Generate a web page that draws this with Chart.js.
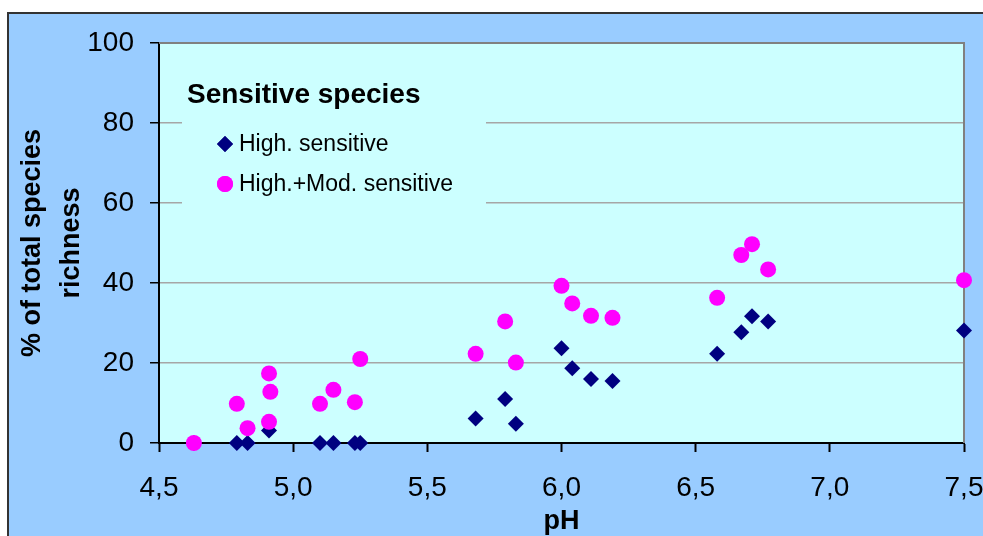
<!DOCTYPE html>
<html>
<head>
<meta charset="utf-8">
<title>Sensitive species</title>
<script src="https://cdn.jsdelivr.net/npm/chart.js@4.4.1/dist/chart.umd.min.js"></script>
<style>
  html, body { margin: 0; padding: 0; background: #ffffff; }
  #wrap { width: 983px; height: 536px; }
</style>
</head>
<body>
<div id="wrap"><canvas id="chart" width="983" height="536"></canvas></div>
<script>
// pH of each site and share of sensitive species (% of total richness)
const phHigh = [4.63, 4.79, 4.83, 4.91, 5.10, 5.15, 5.23, 5.25, 5.68, 5.79, 5.83,
                6.00, 6.04, 6.11, 6.19, 6.58, 6.67, 6.71, 6.77, 7.50];
const highSensitive = [0, 0, 0, 3.1, 0, 0, 0, 0, 6.1, 11.0, 4.8,
                       23.7, 18.7, 16.0, 15.5, 22.3, 27.7, 31.7, 30.4, 28.1];

const phHighMod = [4.63, 4.79, 4.83, 4.91, 4.915, 4.91, 5.10, 5.15, 5.23, 5.25, 5.68,
                   5.79, 5.83, 6.00, 6.04, 6.11, 6.19, 6.58, 6.67, 6.71, 6.77, 7.50];
const highModSensitive = [0, 9.8, 3.7, 17.4, 12.8, 5.3, 9.8, 13.3, 10.2, 21.0, 22.3,
                          30.4, 20.1, 39.3, 34.9, 31.8, 31.3, 36.3, 47.0, 49.7, 43.4, 40.7];

const seriesNames = ['High. sensitive', 'High.+Mod. sensitive'];
const legendTitle = 'Sensitive species';
const xTitle = 'pH';
const yTitle = ['% of total species', 'richness'];

const FONT = "'Liberation Sans', Arial, sans-serif";
const PLOT_BG = '#CCFFFF';
const FRAME_BG = '#99CCFF';

function toPoints(xs, ys) {
    return xs.map((x, i) => ({ x: x, y: ys[i] }));
}

// Background frame, plot area fill and the legend block
const framePlugin = {
    id: 'frame',
    beforeDraw(chart) {
        const { ctx, chartArea: a } = chart;
        ctx.save();
        ctx.fillStyle = '#ffffff';
        ctx.fillRect(0, 0, chart.width, chart.height);
        ctx.fillStyle = FRAME_BG;
        ctx.fillRect(8, 13, chart.width - 8, chart.height - 13);
        ctx.strokeStyle = '#333333';
        ctx.lineWidth = 2;
        ctx.beginPath();
        ctx.moveTo(8, chart.height);
        ctx.lineTo(8, 13);
        ctx.lineTo(chart.width, 13);
        ctx.stroke();
        ctx.fillStyle = PLOT_BG;
        ctx.fillRect(a.left, a.top, a.right - a.left, a.bottom - a.top);
        ctx.restore();
    },
    beforeDatasetsDraw(chart) {
        const { ctx, chartArea: a } = chart;
        ctx.save();
        // legend block hides the grid lines behind it
        ctx.fillStyle = PLOT_BG;
        ctx.fillRect(182, 62, 304, 158);
        // plot border on top and right
        ctx.strokeStyle = '#808080';
        ctx.lineWidth = 2;
        ctx.beginPath();
        ctx.moveTo(a.left, a.top);
        ctx.lineTo(a.right, a.top);
        ctx.lineTo(a.right, a.bottom);
        ctx.stroke();
        ctx.restore();
    },
    afterDatasetsDraw(chart) {
        const { ctx } = chart;
        ctx.save();
        ctx.fillStyle = '#000000';
        ctx.textBaseline = 'middle';
        ctx.textAlign = 'left';
        ctx.font = 'bold 28px ' + FONT;
        ctx.fillText(legendTitle, 187, 95);
        ctx.font = '23px ' + FONT;
        chart.data.datasets.forEach((ds, i) => {
            const y = 144 + i * 40;
            ctx.fillStyle = ds.backgroundColor;
            Chart.helpers.drawPoint(ctx, {
                pointStyle: ds.pointStyle,
                radius: ds.pointRadius,
                rotation: 0,
                borderWidth: 0
            }, 225, y);
            ctx.fill();
            ctx.fillStyle = '#000000';
            ctx.fillText(ds.label, 239, y + 1);
        });
        ctx.restore();
    }
};

const ctx = document.getElementById('chart').getContext('2d');
const chart = new Chart(ctx, {
    type: 'scatter',
    data: {
        datasets: [{
            label: seriesNames[0],
            data: toPoints(phHigh, highSensitive),
            pointStyle: 'rectRot',
            pointRadius: 8,
            backgroundColor: '#000080',
            borderWidth: 0,
            order: 1,
            clip: false
        }, {
            label: seriesNames[1],
            data: toPoints(phHighMod, highModSensitive),
            pointStyle: 'circle',
            pointRadius: 8,
            backgroundColor: '#FF00FF',
            borderWidth: 0,
            order: 0,
            clip: false
        }]
    },
    options: {
        responsive: false,
        animation: false,
        events: [],
        layout: {
            autoPadding: false,
            padding: { top: 43, right: 19, left: 0, bottom: 0 }
        },
        plugins: {
            legend: { display: false },
            tooltip: { enabled: false }
        },
        scales: {
            x: {
                type: 'linear',
                min: 4.5,
                max: 7.5,
                afterFit(scale) {
                    scale.height = 93;
                    scale.paddingLeft = 0;
                    scale.paddingRight = 0;
                },
                border: { color: '#000000', width: 2 },
                grid: {
                    drawOnChartArea: false,
                    drawTicks: true,
                    tickLength: 9,
                    tickColor: '#000000',
                    tickWidth: 2
                },
                ticks: {
                    stepSize: 0.5,
                    padding: 19,
                    color: '#000000',
                    font: { family: FONT, size: 28 },
                    maxRotation: 0,
                    callback: (v) => v.toFixed(1).replace('.', ',')
                },
                title: {
                    display: true,
                    text: xTitle,
                    color: '#000000',
                    padding: { top: 0, bottom: 0 },
                    font: { family: FONT, size: 27, weight: 'bold', lineHeight: 1.05 }
                }
            },
            y: {
                min: 0,
                max: 100,
                afterFit(scale) {
                    scale.width = 159;
                    scale.paddingTop = 0;
                    scale.paddingBottom = 0;
                },
                border: { color: '#000000', width: 2 },
                grid: {
                    color: (c) => (c.tick.value === 0 || c.tick.value === 100) ? 'rgba(0,0,0,0)' : '#A6A6A6',
                    lineWidth: 1.5,
                    tickLength: 9,
                    tickColor: '#000000',
                    tickWidth: 1.5
                },
                ticks: {
                    stepSize: 20,
                    padding: 16,
                    color: '#000000',
                    font: { family: FONT, size: 28 }
                },
                title: {
                    display: true,
                    text: yTitle,
                    color: '#000000',
                    padding: { top: 13, bottom: 0 },
                    font: { family: FONT, size: 27, weight: 'bold', lineHeight: 1.45 }
                }
            }
        }
    },
    plugins: [framePlugin]
});
</script>
</body>
</html>
